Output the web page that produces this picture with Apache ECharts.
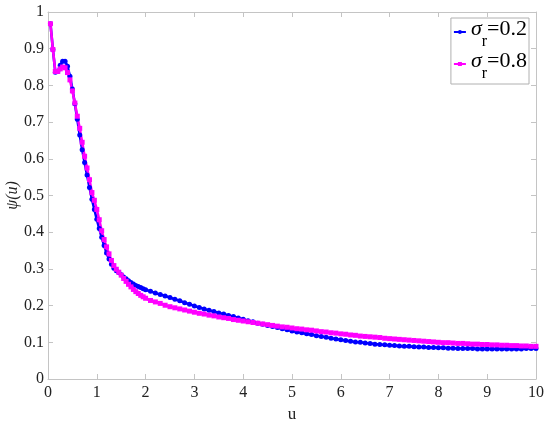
<!DOCTYPE html>
<html>
<head>
<meta charset="utf-8">
<script src="https://cdn.jsdelivr.net/npm/echarts@6/dist/echarts.min.js"></script>
<style>
  html, body { margin: 0; padding: 0; background: #fff; }
  #chart { width: 550px; height: 425px; }
</style>
</head>
<body>
<div id="chart"></div>
<script>
// u 取值（前段步长 0.05，后段步长 0.1）
const uValues = [
  0.05, 0.1, 0.15, 0.2, 0.25, 0.3, 0.35, 0.4, 0.45, 0.5,
  0.55, 0.6, 0.65, 0.7, 0.75, 0.8, 0.85, 0.9, 0.95, 1.0,
  1.05, 1.1, 1.15, 1.2, 1.25, 1.3, 1.35, 1.4, 1.45, 1.5,
  1.55, 1.6, 1.65, 1.7, 1.75, 1.8, 1.85, 1.9, 1.95, 2.0,
  2.1, 2.2, 2.3, 2.4, 2.5, 2.6, 2.7, 2.8, 2.9, 3.0,
  3.1, 3.2, 3.3, 3.4, 3.5, 3.6, 3.7, 3.8, 3.9, 4.0,
  4.1, 4.2, 4.3, 4.4, 4.5, 4.6, 4.7, 4.8, 4.9, 5.0,
  5.1, 5.2, 5.3, 5.4, 5.5, 5.6, 5.7, 5.8, 5.9, 6.0,
  6.1, 6.2, 6.3, 6.4, 6.5, 6.6, 6.7, 6.8, 6.9, 7.0,
  7.1, 7.2, 7.3, 7.4, 7.5, 7.6, 7.7, 7.8, 7.9, 8.0,
  8.1, 8.2, 8.3, 8.4, 8.5, 8.6, 8.7, 8.8, 8.9, 9.0,
  9.1, 9.2, 9.3, 9.4, 9.5, 9.6, 9.7, 9.8, 9.9, 10.0
];

// σr = 0.2
const psiSigma02 = [
  0.968, 0.898, 0.836, 0.838, 0.855, 0.866, 0.866, 0.852, 0.825, 0.790,
  0.750, 0.708, 0.665, 0.625, 0.590, 0.556, 0.522, 0.490, 0.462, 0.435,
  0.410, 0.386, 0.364, 0.343, 0.327, 0.313, 0.302, 0.295, 0.290, 0.284,
  0.278, 0.273, 0.268, 0.263, 0.259, 0.255, 0.252, 0.249, 0.246, 0.243,
  0.239, 0.234, 0.230, 0.226, 0.222, 0.217, 0.213, 0.208, 0.204, 0.199,
  0.195, 0.191, 0.187, 0.184, 0.180, 0.177, 0.173, 0.170, 0.166, 0.163,
  0.159, 0.156, 0.152, 0.149, 0.146, 0.143, 0.140, 0.137, 0.134, 0.131,
  0.128, 0.126, 0.123, 0.121, 0.118, 0.116, 0.114, 0.111, 0.109, 0.107,
  0.105, 0.103, 0.101, 0.100, 0.098, 0.097, 0.095, 0.094, 0.093, 0.092,
  0.091, 0.090, 0.089, 0.089, 0.088, 0.087, 0.087, 0.086, 0.086, 0.085,
  0.085, 0.084, 0.084, 0.083, 0.083, 0.083, 0.083, 0.082, 0.082, 0.082,
  0.082, 0.082, 0.082, 0.082, 0.082, 0.082, 0.082, 0.083, 0.083, 0.083
];

// σr = 0.8
const psiSigma08 = [
  0.968, 0.898, 0.838, 0.838, 0.845, 0.850, 0.848, 0.835, 0.815, 0.785,
  0.752, 0.716, 0.683, 0.645, 0.607, 0.575, 0.543, 0.508, 0.487, 0.462,
  0.434, 0.404, 0.380, 0.360, 0.341, 0.323, 0.309, 0.299, 0.291, 0.283,
  0.274, 0.266, 0.258, 0.251, 0.244, 0.238, 0.233, 0.228, 0.224, 0.220,
  0.214, 0.210, 0.206, 0.201, 0.197, 0.194, 0.191, 0.188, 0.185, 0.182,
  0.179, 0.177, 0.174, 0.172, 0.169, 0.167, 0.165, 0.162, 0.160, 0.158,
  0.156, 0.154, 0.152, 0.150, 0.148, 0.146, 0.144, 0.142, 0.141, 0.139,
  0.137, 0.136, 0.134, 0.133, 0.131, 0.129, 0.128, 0.126, 0.125, 0.123,
  0.122, 0.120, 0.119, 0.117, 0.116, 0.115, 0.114, 0.113, 0.111, 0.110,
  0.109, 0.108, 0.107, 0.106, 0.105, 0.104, 0.103, 0.102, 0.101, 0.100,
  0.099, 0.099, 0.098, 0.097, 0.097, 0.096, 0.095, 0.095, 0.094, 0.094,
  0.093, 0.093, 0.092, 0.092, 0.091, 0.091, 0.090, 0.090, 0.089, 0.089
];

const seriesNames = ['σr=0.2', 'σr=0.8'];
const seriesColors = ['#0000ff', '#ff00ff'];

function pairs(ys) {
    return uValues.map((u, i) => [u, ys[i]]);
}

const font = "'Liberation Serif', 'Times New Roman', serif";
const frameColor = '#c4c4c4';

const myChart = echarts.init(document.getElementById('chart'));

// 坐标框（上、右两侧只画刻度）
function boxAxis(pos, isX) {
    return {
        type: 'value',
        position: pos,
        min: 0,
        max: isX ? 10 : 1,
        interval: isX ? 1 : 0.1,
        axisLine: { show: true, onZero: false, lineStyle: { color: frameColor, width: 1 } },
        axisTick: { show: true, inside: true, length: 5, lineStyle: { color: frameColor } },
        axisLabel: { show: false },
        splitLine: { show: false }
    };
}

const option = {
    backgroundColor: '#fff',
    animation: false,
    grid: { left: 48, right: 14, top: 12, bottom: 46, containLabel: false, outerBoundsMode: 'none' },
    legend: {
        right: 21,
        top: 18,
        orient: 'vertical',
        itemGap: 0,
        itemWidth: 12,
        itemHeight: 5,
        padding: [0, 2, 2, 2],
        backgroundColor: '#fff',
        borderColor: '#b0b0b0',
        borderWidth: 1,
        borderRadius: 0,
        data: seriesNames,
        formatter: function (name) {
            return '{s|σ}{sub|r}{t|' + name.slice(2) + '}';
        },
        textStyle: {
            rich: {
                s: { fontFamily: font, fontStyle: 'italic', fontSize: 22, color: '#000', padding: [0, 0, 6, 0] },
                sub: { fontFamily: font, fontSize: 16, color: '#000', padding: [20, 0, 0, 0] },
                t: { fontFamily: font, fontSize: 22, color: '#000', padding: [0, 0, 6, 0] }
            }
        }
    },
    xAxis: [
        {
            type: 'value',
            min: 0,
            max: 10,
            interval: 1,
            name: 'u',
            nameLocation: 'middle',
            nameGap: 27,
            nameMoveOverlap: false,
            nameTextStyle: { fontFamily: font, fontSize: 17, color: '#222' },
            axisLine: { show: true, onZero: false, lineStyle: { color: frameColor, width: 1 } },
            axisTick: { show: true, inside: true, length: 5, lineStyle: { color: frameColor } },
            axisLabel: { fontFamily: font, fontSize: 16, color: '#222', margin: 6 },
            splitLine: { show: false }
        },
        boxAxis('top', true)
    ],
    yAxis: [
        {
            type: 'value',
            min: 0,
            max: 1,
            interval: 0.1,
            name: 'ψ(u)',
            nameLocation: 'middle',
            nameGap: 27,
            nameMoveOverlap: false,
            nameTextStyle: { fontFamily: font, fontStyle: 'italic', fontSize: 16, color: '#222' },
            axisLine: { show: true, onZero: false, lineStyle: { color: frameColor, width: 1 } },
            axisTick: { show: true, inside: true, length: 5, lineStyle: { color: frameColor } },
            axisLabel: { fontFamily: font, fontSize: 16, color: '#222', margin: 4 },
            splitLine: { show: false }
        },
        boxAxis('right', false)
    ],
    series: [
        {
            name: seriesNames[0],
            type: 'line',
            data: pairs(psiSigma02),
            color: seriesColors[0],
            symbol: 'circle',
            symbolSize: 5,
            showAllSymbol: true,
            lineStyle: { width: 2.6 },
            itemStyle: { color: seriesColors[0] }
        },
        {
            name: seriesNames[1],
            type: 'line',
            data: pairs(psiSigma08),
            color: seriesColors[1],
            symbol: 'rect',
            symbolSize: 5,
            showAllSymbol: true,
            lineStyle: { width: 2.6 },
            itemStyle: { color: seriesColors[1] }
        }
    ]
};

option && myChart.setOption(option);
</script>
</body>
</html>
